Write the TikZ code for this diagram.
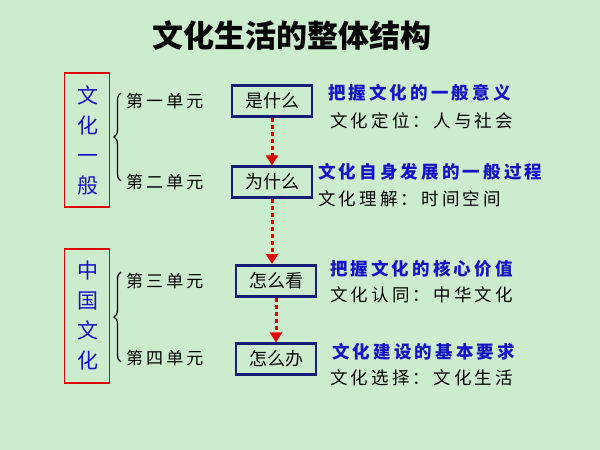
\documentclass[tikz,border=0pt]{standalone}
\usepackage{fontspec}
\setmainfont{Noto Sans CJK SC}
\usetikzlibrary{positioning,arrows.meta,decorations.pathreplacing}
\definecolor{bggreen}{RGB}{204,236,206}
\definecolor{boxblue}{RGB}{20,30,120}
\definecolor{txtblue}{RGB}{20,20,200}
\newfontfamily\widefont[LetterSpace=18]{Noto Sans CJK SC}
\tikzset{
part/.style = {draw=red!85!black, line width=1.8pt, minimum width=45pt, minimum height=134pt, text width=20pt, align=center, text=txtblue, font=\fontsize{21}{30}\selectfont},
qbox/.style = {draw=boxblue, line width=2.2pt, fill=bggreen, minimum width=80pt, minimum height=31pt, font=\fontsize{18}{20}\selectfont},
unit/.style = {font=\widefont\fontsize{17}{19}\selectfont, anchor=west, inner sep=0pt},
aim/.style = {font=\widefont\fontsize{17.5}{19}\selectfont\bfseries, text=txtblue, anchor=west, inner sep=0pt},
sub/.style = {font=\widefont\fontsize{17.5}{19}\selectfont, anchor=west, inner sep=0pt},
flow/.style = {-{Triangle[length=10pt,width=12pt]}, red!90!black, line width=3pt, dash pattern=on 4pt off 3pt},
brc/.style = {decorate, decoration={brace,amplitude=7pt}, line width=1.3pt}
}
\begin{document}
\begin{tikzpicture}[x=1pt,y=-1pt]
    \fill[bggreen] (0,0) rectangle (600,450);
    \node (title) at (292,36) {\fontsize{31}{33}\selectfont\bfseries 文化生活的整体结构};
    % two parts
    \node [part] (p1) at (87,140) {文\\化\\一\\般};
    \node [part] (p2) at (87,316) {中\\国\\文\\化};
    \draw [brc] (121,181) -- (121,93);
    \draw [brc] (121,362) -- (121,272);
    % units
    \node [unit] (u1) at (126,101) {第一单元};
    \node [unit] (u2) at (126,182) {第二单元};
    \node [unit] (u3) at (126,281) {第三单元};
    \node [unit] (u4) at (126,358) {第四单元};
    % questions
    \node [qbox] (q1) at (272,101) {是什么};
    \node [qbox] (q2) at (272,182) {为什么};
    \node [qbox] (q3) at (276,281) {怎么看};
    \node [qbox] (q4) at (276,359) {怎么办};
    \draw [flow] (q1) -- (q2);
    \draw [flow] (q2) -- (272,264);
    \draw [flow] (q3) -- (q4);
    % aims
    \node [aim] (a1) at (328,93) {把握\,文化的一般意义};
    \node [sub] (s1) at (330,121) {文化定位：人与社会};
    \node [aim] (a2) at (318,172) {文化自身发展的一般过程};
    \node [sub] (s2) at (318,199) {文化理解：时间空间};
    \node [aim] (a3) at (330,269) {把握\,文化的核心价值};
    \node [sub] (s3) at (330,295) {文化认同：中华文化};
    \node [aim] (a4) at (332,352) {文化建设的基本要求};
    \node [sub] (s4) at (330,378) {文化选择：文化生活};
\end{tikzpicture}
\end{document}
